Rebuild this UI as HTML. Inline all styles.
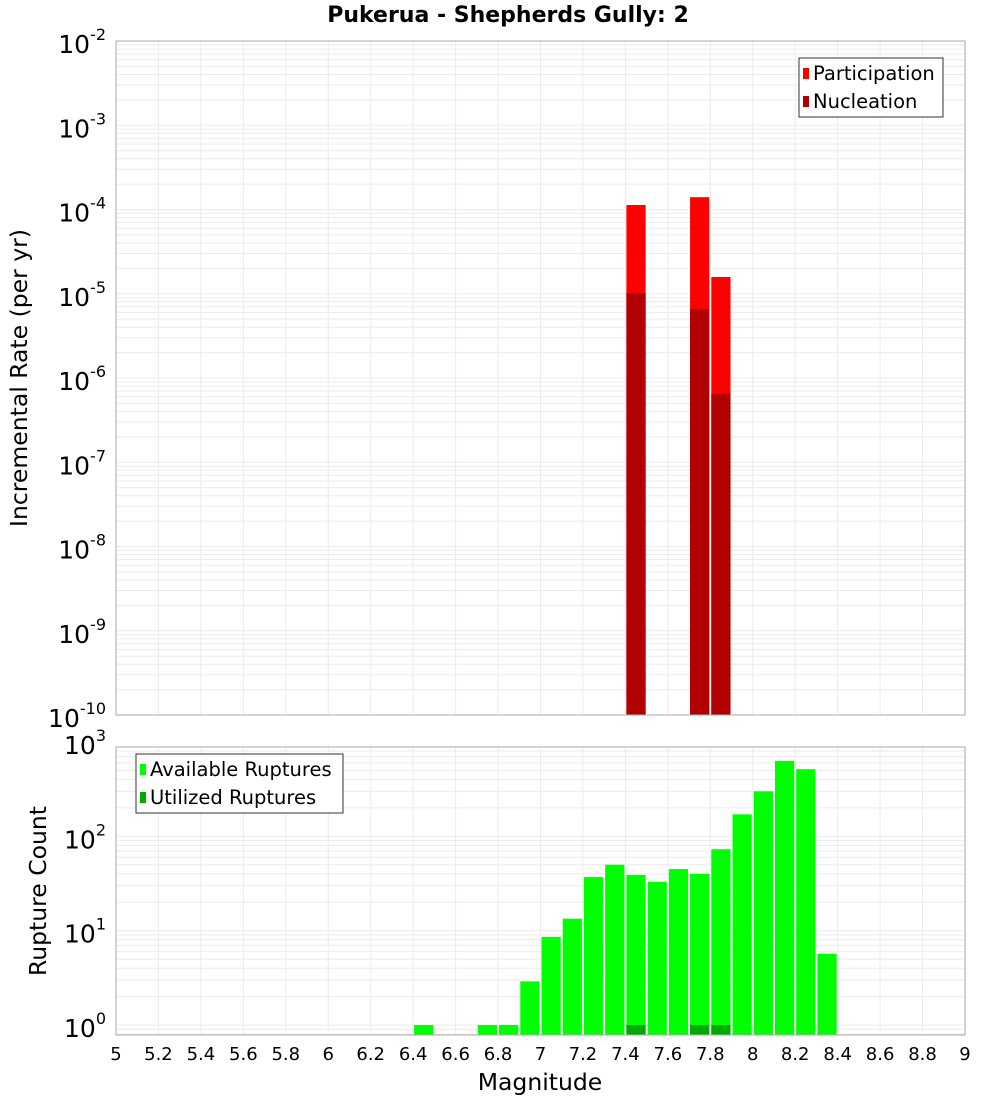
<!DOCTYPE html>
<html><head><meta charset="utf-8"><style>
body{margin:0;background:#fff;width:1000px;height:1100px;overflow:hidden;font-family:"Liberation Sans","DejaVu Sans",sans-serif}
</style></head><body>
<svg id="c" width="1000" height="1100" xmlns="http://www.w3.org/2000/svg" font-family="DejaVu Sans, Liberation Sans, sans-serif"></svg>
<script>
const bins=[7.45,7.75,7.85];
const participation=[1.13e-4,1.4e-4,1.58e-5];
const nucleation=[1.02e-5,6.6e-6,6.5e-7];
const cntBins=[6.45,6.75,6.85,6.95,7.05,7.15,7.25,7.35,7.45,7.55,7.65,7.75,7.85,7.95,8.05,8.15,8.25,8.35];
const available=[1,1,1,2.9,8.6,13.4,37,50,39,33,45,40,73,171,300,630,515,5.7];
const utilBins=[7.45,7.75,7.85];
const utilized=[1,1,1];
const xTicks=["5","5.2","5.4","5.6","5.8","6","6.2","6.4","6.6","6.8","7","7.2","7.4","7.6","7.8","8","8.2","8.4","8.6","8.8","9"];
const topExps=[-10,-9,-8,-7,-6,-5,-4,-3,-2];
const botExps=[0,1,2,3];

const S=document.getElementById('c');const NS='http://www.w3.org/2000/svg';
function el(t,a,p){const e=document.createElementNS(NS,t);for(const k in a)e.setAttribute(k,a[k]);(p||S).appendChild(e);return e;}
const X0=116,X1=965;
const x=v=>X0+(v-5)/4*(X1-X0);
const T0=41,T1=715;const yT=v=>T1-(Math.log10(v)+10)/8*(T1-T0);
const B0=747,B1=1035;const bl0=-0.106,bl1=2.947;const yB=v=>B1-(Math.log10(v)-bl0)/(bl1-bl0)*(B1-B0);

function grid(yf,lo,hi,top,bot,name){
  const g=el('g',{});
  for(let e=lo;e<=hi;e++)for(let m=1;m<10;m++){const yy=yf(m*Math.pow(10,e));if(yy<top-0.5||yy>bot+0.5)continue;
    el('line',{x1:X0,x2:X1,y1:yy,y2:yy,stroke:'#ebebeb','stroke-width':1},g);}
  xTicks.forEach(t=>{const xx=x(+t);el('line',{x1:xx,x2:xx,y1:top,y2:bot,stroke:'#ebebeb','stroke-width':1},g);});
}
grid(yT,-10,-3,T0,T1,'top-grid');
grid(yB,-1,2,B0,B1,'bottom-grid');

const W=(x(5.1)-x(5))-2;
bins.forEach((b,i)=>{
  const r=el('rect',{x:x(b)-W/2,y:yT(participation[i]),width:W,height:T1-yT(participation[i]),fill:'#ff0000'});
  
  const n=el('rect',{x:x(b)-W/2,y:yT(nucleation[i]),width:W,height:T1-yT(nucleation[i]),fill:'#b00000'});
  
});
cntBins.forEach((b,i)=>{
  const r=el('rect',{x:x(b)-W/2,y:yB(available[i]),width:W,height:B1-yB(available[i]),fill:'#00ff00'});
  
});
utilBins.forEach((b,i)=>{
  const r=el('rect',{x:x(b)-W/2,y:yB(utilized[i]),width:W,height:B1-yB(utilized[i]),fill:'#00aa00'});
  
});
el('rect',{x:X0,y:T0,width:X1-X0,height:T1-T0,fill:'none',stroke:'#aaa',});
el('rect',{x:X0,y:B0,width:X1-X0,height:B1-B0,fill:'none',stroke:'#aaa',});

function ylab(yy,e,name){const t=el('text',{x:106,y:yy+12,'text-anchor':'end','font-size':25,fill:'#000'});
  
  t.textContent='10';const s=el('tspan',{dy:-13,'font-size':16},t);s.textContent=e;}
topExps.forEach(e=>ylab(yT(Math.pow(10,e)),e,'y-tick-top'));
botExps.forEach(e=>ylab(yB(Math.pow(10,e)),e,'y-tick-bottom'));
xTicks.forEach(t=>{const tx=el('text',{x:x(+t),y:1060,'text-anchor':'middle','font-size':18,fill:'#000'});
  tx.textContent=t;});

function txt(s,a,name){const t=el('text',a);t.textContent=s;return t;}
txt('Pukerua - Shepherds Gully: 2',{x:508,y:22,'text-anchor':'middle','font-size':22,'font-weight':'bold'},'chart-title');
txt('Magnitude',{x:540,y:1090,'text-anchor':'middle','font-size':23.5},'x-axis-title');
txt('Incremental Rate (per yr)',{x:0,y:0,'text-anchor':'middle','font-size':23.5,transform:'translate(27,378) rotate(-90)'},'y-axis-title-top');
txt('Rupture Count',{x:0,y:0,'text-anchor':'middle','font-size':23.5,transform:'translate(46,891) rotate(-90)'},'y-axis-title-bottom');

function legend(bx,by,w,items,name){const g=el('g',{});
  el('rect',{x:bx,y:by,width:w,height:59,fill:'#fff',stroke:'#333'},g);
  items.forEach((it,i)=>{el('rect',{x:bx+4,y:by+10+i*28,width:6,height:11,fill:it[1]},g);
    const t=el('text',{x:bx+14,y:by+22+i*28,'font-size':19.5},g);t.textContent=it[0];});}
legend(799,58,144,[['Participation','#ff0000'],['Nucleation','#b00000']],'top-legend');
legend(136,754,207,[['Available Ruptures','#00ff00'],['Utilized Ruptures','#00aa00']],'bottom-legend');
</script>
</body></html>
